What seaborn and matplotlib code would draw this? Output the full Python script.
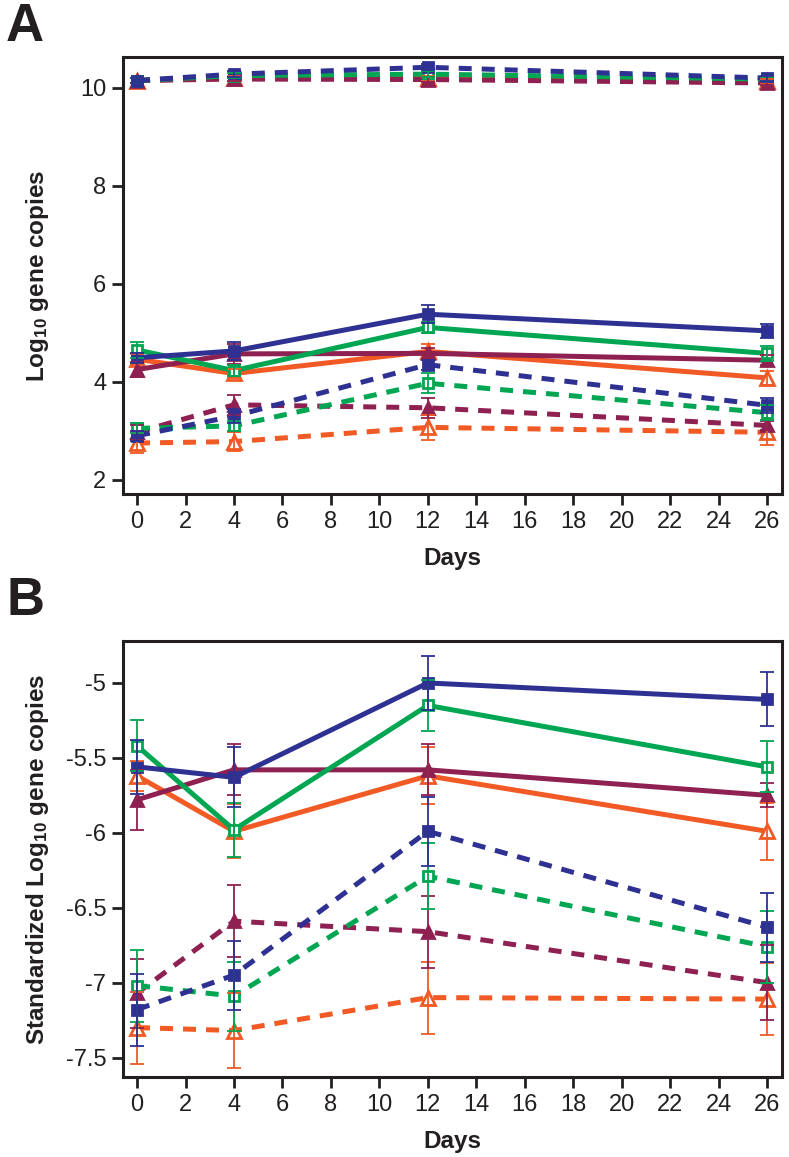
import numpy as np
import pandas as pd
import matplotlib
matplotlib.use("Agg")
import matplotlib.pyplot as plt
from matplotlib.ticker import FuncFormatter
import seaborn as sns

# -----------------------------
# DATA
# -----------------------------
days = [0, 4, 12, 26]
groups = ["blue", "green", "maroon", "orange"]

# Panel A - top (dashed) group
a_top = {
    "blue":   [10.15, 10.28, 10.42, 10.20],
    "green":  [10.15, 10.25, 10.28, 10.18],
    "maroon": [10.15, 10.18, 10.17, 10.10],
    "orange": [10.15, 10.20, 10.20, 10.13],
}
a_top_err = {
    "blue":   [0.05, 0.06, 0.06, 0.05],
    "green":  [0.05, 0.05, 0.06, 0.05],
    "maroon": [0.05, 0.05, 0.05, 0.05],
    "orange": [0.05, 0.05, 0.05, 0.05],
}
# Panel A - solid group
a_solid = {
    "blue":   [4.49, 4.63, 5.38, 5.04],
    "green":  [4.65, 4.23, 5.11, 4.58],
    "maroon": [4.25, 4.57, 4.58, 4.44],
    "orange": [4.46, 4.17, 4.62, 4.08],
}
a_solid_err = {
    "blue":   [0.10, 0.18, 0.18, 0.15],
    "green":  [0.17, 0.12, 0.12, 0.15],
    "maroon": [0.15, 0.20, 0.12, 0.10],
    "orange": [0.10, 0.10, 0.15, 0.15],
}
# Panel A - dashed lower group
a_dash = {
    "blue":   [2.90, 3.30, 4.35, 3.52],
    "green":  [3.05, 3.10, 3.97, 3.37],
    "maroon": [2.97, 3.53, 3.47, 3.11],
    "orange": [2.75, 2.78, 3.07, 2.97],
}
a_dash_err = {
    "blue":   [0.10, 0.15, 0.10, 0.15],
    "green":  [0.10, 0.10, 0.20, 0.15],
    "maroon": [0.15, 0.20, 0.20, 0.10],
    "orange": [0.20, 0.20, 0.25, 0.25],
}

# Panel B - solid group
b_solid = {
    "blue":   [-5.56, -5.63, -5.00, -5.11],
    "green":  [-5.42, -5.98, -5.15, -5.56],
    "maroon": [-5.78, -5.58, -5.58, -5.75],
    "orange": [-5.62, -5.99, -5.62, -5.99],
}
b_solid_err = {
    "blue":   [0.18, 0.20, 0.18, 0.18],
    "green":  [0.17, 0.18, 0.17, 0.17],
    "maroon": [0.20, 0.17, 0.17, 0.08],
    "orange": [0.10, 0.18, 0.19, 0.19],
}
# Panel B - dashed group
b_dash = {
    "blue":   [-7.18, -6.95, -5.99, -6.63],
    "green":  [-7.02, -7.09, -6.29, -6.76],
    "maroon": [-7.07, -6.59, -6.66, -7.00],
    "orange": [-7.30, -7.32, -7.10, -7.11],
}
b_dash_err = {
    "blue":   [0.24, 0.23, 0.23, 0.23],
    "green":  [0.24, 0.23, 0.22, 0.24],
    "maroon": [0.23, 0.24, 0.24, 0.25],
    "orange": [0.24, 0.25, 0.24, 0.24],
}

# -----------------------------
# STYLE
# -----------------------------
sns.set_theme(style="ticks")
plt.rcParams.update({
    "font.family": ["Liberation Sans", "DejaVu Sans"],
    "axes.unicode_minus": False,
    "mathtext.fontset": "custom",
    "mathtext.rm": "Liberation Sans:bold",
    "mathtext.default": "rm",
})

colors = {"blue": "#2E3192", "green": "#00A651", "maroon": "#8E2151", "orange": "#F15A24"}
markers = {"blue": "s", "green": "s", "maroon": "^", "orange": "^"}
msize = {"blue": 7.5, "green": 7.5, "maroon": 8.5, "orange": 9.5}
filled = {"blue": True, "green": False, "maroon": True, "orange": False}
dash_style = (0, (2.6, 2))
ink = "#231F20"

fig = plt.figure(figsize=(7.89, 11.57), dpi=100)
W, H = 789, 1157
axA = fig.add_axes([123 / W, 1 - 494 / H, (782 - 123) / W, (494 - 57) / H])
axB = fig.add_axes([123 / W, 1 - 1077 / H, (782 - 123) / W, (1077 - 641) / H])


def draw_series(ax, vals, errs, name, ls):
    c = colors[name]
    df = pd.DataFrame({"day": days, "val": vals[name]})
    sns.lineplot(data=df, x="day", y="val", ax=ax, color=c, linewidth=3.6,
                 linestyle=ls, marker=markers[name], markersize=msize[name],
                 markerfacecolor=c if filled[name] else "white",
                 markeredgecolor=c, markeredgewidth=2, zorder=2)
    ax.errorbar(days, vals[name], yerr=errs[name], fmt="none", ecolor=c,
                elinewidth=1.3, capsize=5, capthick=1.3, zorder=3)


for name in ["orange", "maroon", "green", "blue"]:
    draw_series(axA, a_top, a_top_err, name, dash_style)
    draw_series(axA, a_dash, a_dash_err, name, dash_style)
    draw_series(axA, a_solid, a_solid_err, name, "-")
    draw_series(axB, b_dash, b_dash_err, name, dash_style)
    draw_series(axB, b_solid, b_solid_err, name, "-")

axA.set_ylim(1.71, 10.63)
axA.set_yticks([2, 4, 6, 8, 10])
axB.set_ylim(-7.63, -4.72)
axB.set_yticks([-7.5, -7, -6.5, -6, -5.5, -5])

for ax in (axA, axB):
    ax.set_xlim(-0.58, 26.62)
    ax.set_xticks(range(0, 27, 2))
    ax.yaxis.set_major_formatter(FuncFormatter(lambda v, p: "%g" % v))
    for sp in ax.spines.values():
        sp.set_linewidth(2.2)
        sp.set_color(ink)
    ax.tick_params(axis="both", length=8, width=2, color=ink,
                   labelsize=17, pad=4, labelcolor=ink)
    ax.set_xlabel("Days", fontsize=17.5, fontweight="bold", color=ink)
    ax.xaxis.set_label_coords(0.5, -0.122)

axA.set_ylabel("Log$_{10}$ gene copies", fontsize=17.5, fontweight="bold", color=ink)
axA.yaxis.set_label_coords(-0.11, 0.5)
axB.set_ylabel("Standardized Log$_{10}$ gene copies", fontsize=17.5, fontweight="bold", color=ink)
axB.yaxis.set_label_coords(-0.11, 0.5)

fig.text(6 / W, 1 - 2 / H, "A", fontsize=38, fontweight="bold", va="top", ha="left", color=ink)
fig.text(6 / W, 1 - 576 / H, "B", fontsize=38, fontweight="bold", va="top", ha="left", color=ink)

fig.savefig("out.png", dpi=100)
